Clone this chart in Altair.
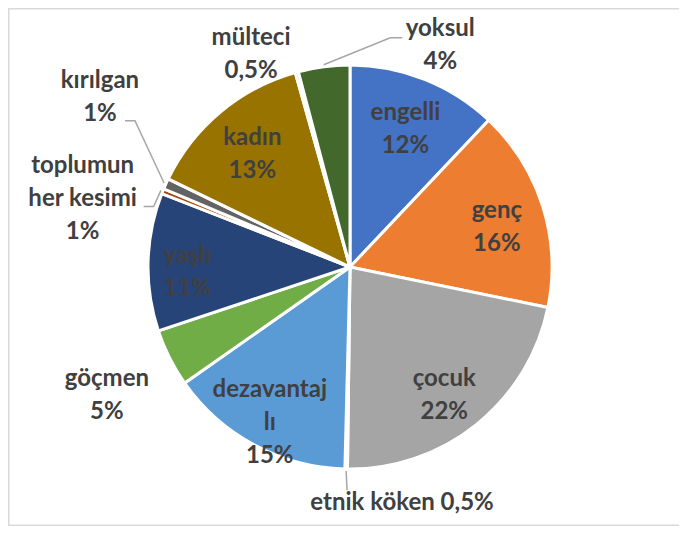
import math
import altair as alt
import pandas as pd

# ---- data ----
categories = ["engelli", "genç", "çocuk", "etnik köken", "dezavantajlı", "göçmen",
              "yaşlı", "toplumun her kesimi", "kırılgan", "kadın", "mülteci", "yoksul"]
values = [12, 16.1, 21.9, 0.2, 14.8, 4.6, 11.0, 0.4, 0.85, 13.4, 0.25, 4.1]
label_texts = ["engelli\n12%", "genç\n16%", "çocuk\n22%", "etnik köken 0,5%",
               "dezavantaj\nlı\n15%", "göçmen\n5%", "yaşlı\n11%",
               "toplumun\nher kesimi\n1%", "kırılgan\n1%", "kadın\n13%",
               "mülteci\n0,5%", "yoksul\n4%"]
colors = ["#4472C4", "#ED7D31", "#A5A5A5", "#FFC000", "#5B9BD5", "#70AD47",
          "#264478", "#9E480E", "#636363", "#997300", "#255E91", "#43682B"]

# ---- layout (kept apart from the data) ----
W, H = 671, 518
CX, CY, R = 342, 259, 202
LINE_H = 33
label_angle_shift = [0.3, 2.55, 2.5, -13.5, -0.9, -1.1, -3.3, -7.7, 9.8, -1.0, -9.75, 29.6]
label_radius = [148, 152, 159, 242, 175, 275, 163, 276, 302, 149, 234, 239]
# leader lines: points relative to the label block centre (elbow, end)
leaders = {
    "yoksul": [(-50, -8), (-38, -8)],
    "kırılgan": [(35, 23), (25, 23)],
    "toplumun her kesimi": [(71, 8), (61, 8)],
    "etnik köken": [(-55, -13)],
}

total = sum(values)
mids = []
acc = 0.0
for v in values:
    mids.append((acc + v / 2) / total * 360.0)
    acc += v


def polar(deg, r):
    a = math.radians(deg)
    return CX + r * math.sin(a), CY - r * math.cos(a)


pie_df = pd.DataFrame({"cat": categories, "value": values, "order": list(range(len(values)))})

lab_rows = []
for i, c in enumerate(categories):
    x, y = polar(mids[i] + label_angle_shift[i], label_radius[i])
    n_lines = label_texts[i].count("\n") + 1
    lab_rows.append({"cat": c, "label": label_texts[i], "x": x, "y": y,
                     "ytext": y - (n_lines - 1) * LINE_H / 2})
lab_df = pd.DataFrame(lab_rows)

line_rows = []
for c, pts in leaders.items():
    i = categories.index(c)
    sx, sy = polar(mids[i], R + 2)
    lx, ly = lab_df.loc[i, "x"], lab_df.loc[i, "y"]
    seq = [(sx, sy)] + [(lx + dx, ly + dy) for dx, dy in pts]
    for k, (px, py) in enumerate(seq):
        line_rows.append({"id": c, "k": k, "x": px, "y": py})
line_df = pd.DataFrame(line_rows)

pie = alt.Chart(pie_df).mark_arc(outerRadius=R, stroke="white", strokeWidth=3).encode(
    theta=alt.Theta("value:Q", stack=True),
    order=alt.Order("order:Q"),
    color=alt.Color("cat:N", scale=alt.Scale(domain=categories, range=colors), legend=None),
    x=alt.value(CX),
    y=alt.value(CY),
)

labels = alt.Chart(lab_df).mark_text(
    font="Lato", fontSize=24, fontWeight="bold", color="#404040",
    align="center", baseline="middle", lineBreak="\n", lineHeight=LINE_H,
).encode(
    x=alt.X("x:Q", scale=None, axis=None),
    y=alt.Y("ytext:Q", scale=None, axis=None),
    text="label:N",
)

lead = alt.Chart(line_df).mark_line(color="#A6A6A6", strokeWidth=1.5).encode(
    x=alt.X("x:Q", scale=None, axis=None),
    y=alt.Y("y:Q", scale=None, axis=None),
    detail="id:N",
    order="k:Q",
)

border_df = pd.DataFrame({"side": ["top", "left", "bottom"]})
frame_top = alt.Chart(border_df).transform_filter(alt.datum.side == "top").mark_rule(
    color="#D9D9D9", strokeWidth=1.5).encode(x=alt.value(0), x2=alt.value(W), y=alt.value(0.75))
frame_left = alt.Chart(border_df).transform_filter(alt.datum.side == "left").mark_rule(
    color="#D9D9D9", strokeWidth=1.5).encode(x=alt.value(0.75), y=alt.value(0), y2=alt.value(H))
frame_bottom = alt.Chart(border_df).transform_filter(alt.datum.side == "bottom").mark_rule(
    color="#D9D9D9", strokeWidth=1.5).encode(x=alt.value(0), x2=alt.value(W), y=alt.value(H - 0.75))

chart = alt.layer(frame_top, frame_left, frame_bottom, pie, lead, labels).properties(
    width=W, height=H, autosize=alt.AutoSizeParams(type="none"), padding=0,
    background="white",
).configure_view(stroke=None)

chart.save("out.html", embed_options={"renderer": "svg", "actions": False})
